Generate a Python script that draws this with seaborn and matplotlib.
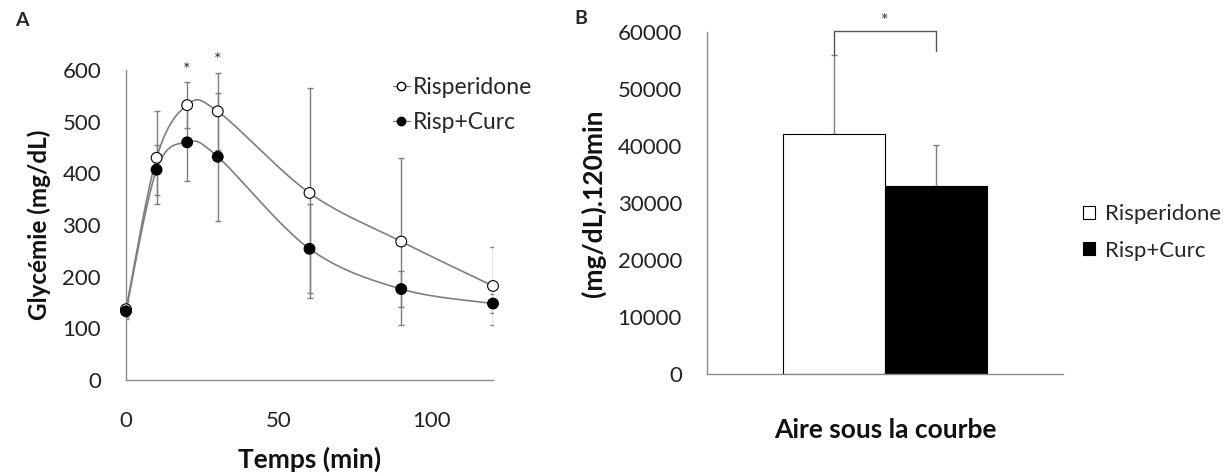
import numpy as np
import pandas as pd
import matplotlib
matplotlib.use("Agg")
import matplotlib.pyplot as plt
import seaborn as sns
from matplotlib.lines import Line2D
from matplotlib.patches import Patch

# ---------------- data ----------------
time_min = [0, 10, 20, 30, 60, 90, 120]
risperidone_mean = [137, 430, 532, 520, 362, 268, 182]
risperidone_sd = [16, 90, 45, 75, 204, 161, 76]
risp_curc_mean = [133, 407, 460, 432, 254, 176, 148]
risp_curc_sd = [15, 48, 74, 124, 86, 35, 19]
sig_times = [20, 30]

groups = ["Risperidone", "Risp+Curc"]
auc_mean = [42200, 33000]
auc_sd = [13900, 7200]
auc_category = "Aire sous la courbe"

# ---------------- style ----------------
sns.set_theme(style="white")
plt.rcParams["font.family"] = ["Lato", "DejaVu Sans"]
GRAY = "#7f7f7f"
AXC = "#8c8c8c"


def excel_smooth(xs, ys, n=40):
    P = np.column_stack([np.asarray(xs, float), np.asarray(ys, float)])
    out = [P[0]]
    t = np.linspace(0, 1, n)[1:, None]
    for i in range(len(P) - 1):
        p0 = P[i - 1] if i > 0 else P[i]
        p1, p2 = P[i], P[i + 1]
        p3 = P[i + 2] if i + 2 < len(P) else P[i + 1]
        c1 = p1 + (p2 - p0) / 6
        c2 = p2 - (p3 - p1) / 6
        seg = (1 - t) ** 3 * p1 + 3 * (1 - t) ** 2 * t * c1 + 3 * (1 - t) * t ** 2 * c2 + t ** 3 * p2
        out.extend(seg)
    return np.array(out)


fig = plt.figure(figsize=(12.23, 4.75), dpi=100)
axA = fig.add_axes([126 / 1223, 1 - 380 / 475, (493 - 126) / 1223, 310 / 475])
axB = fig.add_axes([707 / 1223, 1 - 374.3 / 475, (1063 - 707) / 1223, 342 / 475])

# ---------------- panel A ----------------
df = pd.DataFrame({
    "time": time_min * 2,
    "value": risperidone_mean + risp_curc_mean,
    "sd": risperidone_sd + risp_curc_sd,
    "group": ["Risperidone"] * len(time_min) + ["Risp+Curc"] * len(time_min),
})

for g in groups:
    sub = df[df["group"] == g]
    curve = excel_smooth(sub["time"], sub["value"])
    axA.plot(curve[:, 0], curve[:, 1], color=GRAY, lw=1.2, zorder=2)
    axA.errorbar(sub["time"], sub["value"], yerr=sub["sd"], fmt="none",
                 ecolor=GRAY, elinewidth=1.0, capsize=2.5, capthick=1.0, zorder=1)

sns.scatterplot(data=df, x="time", y="value", hue="group", palette=["white", "black"],
                hue_order=groups, edgecolor="black", linewidth=0.8, s=60, ax=axA,
                legend=False, zorder=3, clip_on=False)

for ts in sig_times:
    i = time_min.index(ts)
    top = risperidone_mean[i] + risperidone_sd[i]
    axA.text(ts, top + 8, "*", ha="center", va="bottom", fontsize=13, color="#333333")

axA.set_xlim(0, 120)
axA.set_ylim(0, 600)
axA.set_xticks([0, 50, 100])
axA.set_yticks(range(0, 601, 100))
axA.tick_params(axis="both", direction="out", colors=AXC, labelcolor="#222222",
                labelsize=16, length=6, width=1.0)
axA.tick_params(axis="x", pad=16.5)
axA.tick_params(axis="y", pad=11.5, length=6.5)
for s in ["top", "right"]:
    axA.spines[s].set_visible(False)
for s in ["left", "bottom"]:
    axA.spines[s].set_color(AXC)
    axA.spines[s].set_linewidth(1.0)
axA.set_xlabel("Temps (min)", fontsize=19, fontweight="bold", labelpad=11, color="#111111")
axA.set_ylabel("Glycémie (mg/dL)", fontsize=17.5, fontweight="bold", labelpad=8, color="#111111")

legA = [
    Line2D([0], [0], color=GRAY, lw=1.0, marker="o", markerfacecolor="white",
           markeredgecolor="black", markersize=6, label="Risperidone"),
    Line2D([0], [0], color=GRAY, lw=1.0, marker="o", markerfacecolor="black",
           markeredgecolor="black", markersize=6, label="Risp+Curc"),
]
axA.legend(handles=legA, loc="upper left", bbox_to_anchor=(0.7025, 1.006), frameon=False,
           fontsize=16.5, handlelength=0.74, handletextpad=0.13, labelspacing=0.59,
           borderaxespad=0)

fig.text(15 / 1223, 1 - 20 / 475, "A", fontsize=14, fontweight="bold", ha="left", va="center")

# ---------------- panel B ----------------
df_auc = pd.DataFrame({"cat": [auc_category] * 2, "group": groups, "auc": auc_mean, "sd": auc_sd})
sns.barplot(data=df_auc, x="cat", y="auc", hue="group", hue_order=groups,
            palette=["white", "black"], edgecolor="black", linewidth=0.8,
            width=0.573, errorbar=None, legend=False, ax=axB, zorder=2)

centers = []
for p, g in zip(axB.patches, groups):
    centers.append(p.get_x() + p.get_width() / 2)
for cx, m, sd in zip(centers, auc_mean, auc_sd):
    axB.errorbar([cx], [m], yerr=[[0], [sd]], fmt="none", ecolor=GRAY,
                 elinewidth=1.0, capsize=2, capthick=1.0, zorder=1)

# significance bracket
top_y = 60300
axB.plot([centers[0], centers[0], centers[1], centers[1]],
         [auc_mean[0] + auc_sd[0], top_y, top_y, top_y - 3600],
         color="#555555", lw=1.0, clip_on=False, zorder=3)
axB.text(sum(centers) / 2, top_y + 300, "*", ha="center", va="bottom", fontsize=13, color="#333333")

axB.set_xlim(-0.5, 0.5)
axB.set_ylim(0, 60000)
axB.set_yticks(range(0, 60001, 10000))
axB.set_xticks([-0.5, 0.5])
axB.set_xticklabels(["", ""])
axB.tick_params(axis="both", direction="out", colors=AXC, labelcolor="#222222",
                labelsize=16, length=6.5, width=1.0)
axB.tick_params(axis="y", pad=11.5)
axB.tick_params(axis="x", length=8)
for s in ["top", "right"]:
    axB.spines[s].set_visible(False)
for s in ["left", "bottom"]:
    axB.spines[s].set_color(AXC)
    axB.spines[s].set_linewidth(1.0)
axB.set_xlabel(auc_category, fontsize=19, fontweight="bold", labelpad=20, color="#111111")
axB.set_ylabel("(mg/dL).120min", fontsize=19, fontweight="bold", labelpad=8, color="#111111")

legB = [Patch(facecolor="white", edgecolor="black", linewidth=0.8, label=groups[0]),
        Patch(facecolor="black", edgecolor="black", linewidth=0.8, label=groups[1])]
fig.legend(handles=legB, loc="center left", bbox_to_anchor=(1074 / 1223, 1 - 232.5 / 475),
           frameon=False, fontsize=16, handlelength=0.54, handleheight=0.55,
           handletextpad=0.45, labelspacing=0.73, borderaxespad=0)

fig.text(574 / 1223, 1 - 18 / 475, "B", fontsize=14, fontweight="bold", ha="left", va="center")

fig.savefig("out.png", dpi=100, facecolor="white")
